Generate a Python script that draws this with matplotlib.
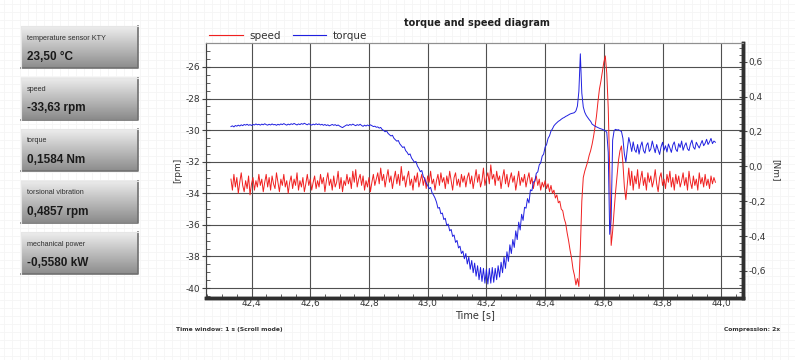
import numpy as np
import matplotlib.pyplot as plt
from matplotlib.ticker import MultipleLocator, FuncFormatter
from matplotlib.lines import Line2D

plt.rcParams['axes.unicode_minus'] = False
plt.rcParams['font.family'] = ['DejaVu Sans']

# sampling of the recorder: start time [s] and step [s]
t_start = 42.33
t_step = 0.005

# speed [rpm], one row = 0.1 s
speed = [
    -33.1, -33.8, -32.8, -33.6, -33.0, -34.0, -33.3, -32.7, -33.5, -33.9, -33.2, -33.7, -32.9, -34.1, -33.4, -33.0, -33.8, -33.2, -33.6, -32.8,
    -33.5, -33.1, -33.9, -33.3, -32.8, -33.6, -33.0, -33.8, -32.9, -33.4, -33.7, -32.7, -33.3, -33.9, -33.1, -33.5, -32.8, -33.6, -33.2, -34.0,
    -33.3, -32.9, -33.7, -33.1, -33.5, -32.7, -33.8, -33.2, -33.6, -33.0, -33.9, -33.4, -32.8, -33.5, -33.1, -33.8, -33.3, -32.9, -33.7, -33.2,
    -33.6, -32.8, -33.4, -33.0, -33.9, -33.2, -32.7, -33.5, -33.1, -33.8, -32.9, -33.6, -33.3, -32.6, -33.7, -33.0, -33.9, -33.2, -33.5, -32.8,
    -33.4, -33.0, -33.7, -32.6, -33.3, -32.5, -33.6, -33.1, -32.8, -33.5, -32.9, -33.8, -33.2, -33.6, -33.0, -33.9, -33.3, -32.8, -33.5, -33.1,
    -32.7, -33.4, -32.4, -33.2, -32.8, -33.6, -33.0, -32.5, -33.3, -32.9, -33.7, -33.1, -32.6, -33.4, -32.8, -33.5, -32.3, -33.2, -32.9, -33.6,
    -33.0, -32.6, -33.5, -33.1, -33.8, -32.9, -33.3, -32.7, -33.6, -33.2, -32.8, -33.5, -33.0, -33.7, -32.9, -33.3, -32.6, -33.4, -33.1, -33.8,
    -33.2, -32.8, -33.5, -32.7, -33.3, -33.0, -33.7, -32.9, -33.4, -32.6, -33.2, -33.8, -33.0, -32.7, -33.5, -33.1, -33.6, -32.8, -33.3, -32.9,
    -33.6, -33.0, -32.7, -33.4, -32.9, -33.7, -33.1, -32.5, -33.3, -32.8, -33.6, -33.2, -32.4, -33.5, -33.0, -32.7, -33.4, -32.2, -33.1, -32.8,
    -33.5, -32.6, -33.2, -32.9, -33.7, -33.0, -32.5, -33.4, -32.8, -33.6, -33.1, -32.7, -33.3, -32.9, -33.8, -33.2, -32.6, -33.5, -33.0, -33.3,
    -32.8, -33.6, -33.1, -32.7, -33.4, -33.0, -33.7, -33.2, -32.9, -33.5, -33.1, -33.8, -33.3, -33.6, -33.2, -33.7, -33.4, -33.9, -33.5, -34.0,
    -33.8, -34.3, -34.1, -34.6, -34.5, -35.0, -35.1, -35.6, -35.9, -36.5, -37.0, -37.6, -38.1, -38.8, -39.2, -39.8, -39.4, -39.9, -37.5, -34.5,
    -33.0, -32.6, -32.3, -32.0, -31.6, -31.3, -30.9, -30.4, -29.8, -29.1, -28.2, -27.4, -26.9, -26.3, -25.7, -25.3, -26.4, -28.6, -32.5, -37.3,
    -36.4, -35.1, -33.9, -32.9, -31.9, -31.3, -31.0, -32.1, -33.6, -34.4, -33.4, -32.4, -33.5, -32.6, -33.8, -32.9, -33.4, -32.5, -33.7, -33.1,
    -32.6, -33.5, -33.0, -33.8, -32.7, -33.3, -32.9, -33.6, -33.2, -32.5, -33.4, -33.9, -33.0, -32.7, -33.5, -33.1, -33.7, -32.8, -33.3, -32.6,
    -33.6, -33.0, -33.8, -32.8, -33.4, -32.9, -33.6, -33.2, -32.7, -33.5, -33.0, -33.8, -32.6, -33.3, -33.7, -32.9, -33.5, -33.1, -33.8, -32.7,
    -33.4, -33.0, -33.6, -32.8, -33.5, -33.1, -33.7, -32.9, -33.4, -33.0, -33.3,
]

# torque [Nm], same sampling
torque = [
    0.228, 0.232, 0.226, 0.234, 0.230, 0.236, 0.231, 0.238, 0.233, 0.240, 0.236, 0.241, 0.235, 0.239, 0.234, 0.240, 0.237, 0.243, 0.238, 0.241,
    0.236, 0.242, 0.238, 0.244, 0.239, 0.236, 0.241, 0.237, 0.243, 0.238, 0.240, 0.235, 0.241, 0.237, 0.243, 0.239, 0.245, 0.240, 0.236, 0.242,
    0.238, 0.244, 0.240, 0.246, 0.241, 0.237, 0.243, 0.239, 0.245, 0.241, 0.247, 0.242, 0.238, 0.244, 0.240, 0.236, 0.242, 0.238, 0.244, 0.239,
    0.243, 0.237, 0.241, 0.235, 0.240, 0.234, 0.238, 0.232, 0.236, 0.240, 0.235, 0.239, 0.233, 0.237, 0.231, 0.226, 0.222, 0.228, 0.233, 0.238,
    0.234, 0.240, 0.236, 0.242, 0.237, 0.233, 0.239, 0.235, 0.241, 0.234, 0.229, 0.236, 0.231, 0.237, 0.232, 0.238, 0.233, 0.228, 0.230, 0.224,
    0.226, 0.219, 0.223, 0.211, 0.206, 0.198, 0.203, 0.189, 0.181, 0.174, 0.178, 0.161, 0.152, 0.144, 0.148, 0.129, 0.118, 0.108, 0.112, 0.090,
    0.080, 0.066, 0.071, 0.048, 0.036, 0.023, 0.028, 0.002, -0.012, -0.031, -0.024, -0.058, -0.072, -0.095, -0.110, -0.128, -0.121, -0.152, -0.165, -0.182,
    -0.205, -0.240, -0.236, -0.272, -0.268, -0.305, -0.298, -0.339, -0.331, -0.370, -0.362, -0.402, -0.394, -0.436, -0.425, -0.468, -0.458, -0.500, -0.486, -0.530,
    -0.500, -0.560, -0.520, -0.590, -0.540, -0.610, -0.555, -0.630, -0.570, -0.650, -0.580, -0.660, -0.585, -0.670, -0.590, -0.675, -0.585, -0.670, -0.580, -0.665,
    -0.585, -0.650, -0.570, -0.635, -0.550, -0.610, -0.520, -0.585, -0.490, -0.545, -0.450, -0.500, -0.420, -0.465, -0.370, -0.420, -0.320, -0.365, -0.275, -0.310,
    -0.235, -0.240, -0.185, -0.210, -0.135, -0.140, -0.090, -0.085, -0.040, -0.032, 0.008, 0.020, 0.058, 0.070, 0.110, 0.125, 0.160, 0.175, 0.202, 0.215,
    0.232, 0.242, 0.250, 0.258, 0.263, 0.270, 0.276, 0.280, 0.286, 0.290, 0.295, 0.300, 0.303, 0.305, 0.308, 0.318, 0.345, 0.430, 0.645, 0.420,
    0.340, 0.310, 0.292, 0.280, 0.268, 0.258, 0.242, 0.236, 0.230, 0.226, 0.222, 0.218, 0.215, 0.212, 0.208, 0.204, 0.195, 0.080, -0.390, -0.300,
    0.150, 0.205, 0.212, 0.208, 0.210, 0.204, 0.200, 0.160, 0.070, 0.025, 0.100, 0.165, 0.130, 0.085, 0.140, 0.095, 0.080, 0.125, 0.070, 0.115,
    0.140, 0.090, 0.075, 0.120, 0.135, 0.085, 0.100, 0.145, 0.110, 0.078, 0.125, 0.095, 0.068, 0.112, 0.138, 0.092, 0.118, 0.082, 0.128, 0.105,
    0.080, 0.122, 0.140, 0.098, 0.085, 0.130, 0.108, 0.145, 0.092, 0.118, 0.135, 0.100, 0.090, 0.128, 0.150, 0.110, 0.098, 0.138, 0.120, 0.105,
    0.128, 0.148, 0.118, 0.132, 0.155, 0.125, 0.140, 0.160, 0.130, 0.145, 0.138,
]

# read-outs on the left
panel_labels = ['temperature sensor KTY', 'speed', 'torque', 'torsional vibration', 'mechanical power']
panel_values = ['23,50 °C', '-33,63 rpm', '0,1584 Nm', '0,4857 rpm', '-0,5580 kW']

t = t_start + t_step * np.arange(len(speed))

W, H = 795, 360
fig = plt.figure(figsize=(W / 100, H / 100), dpi=100)
fig.patch.set_facecolor('white')

# background layer in pixel coordinates
bg = fig.add_axes([0, 0, 1, 1], zorder=0)
bg.set_xlim(0, W)
bg.set_ylim(H, 0)
bg.axis('off')
for gx in np.arange(4, W, 8):
    bg.axvline(gx, color='#f5f5f5', lw=0.6, zorder=0)
for gy in np.arange(4, H, 8):
    bg.axhline(gy, color='#f5f5f5', lw=0.6, zorder=0)

grad = np.linspace(0.93, 0.55, 64).reshape(-1, 1)
for i, (lab, val) in enumerate(zip(panel_labels, panel_values)):
    top = 26 + i * 51.5
    bg.imshow(grad, cmap='gray', vmin=0, vmax=1, aspect='auto',
              extent=(21, 138, top + 42, top), zorder=1)
    bg.plot([21, 138, 138], [top + 42, top + 42, top], color='#707070', lw=1.2, zorder=2)
    bg.plot([21, 21, 138], [top + 42, top, top], color='#e6e6e6', lw=0.8, zorder=2)
    bg.text(27, top + 12, lab, fontsize=5.2, color='#303030', va='center',
            family='Liberation Sans', zorder=3)
    bg.text(27, top + 31, val, fontsize=8.5, color='#1a1a1a', fontweight='bold',
            va='center', family='Liberation Sans', zorder=3)

# main chart
ax = fig.add_axes([206 / W, 1 - 298 / H, (743 - 206) / W, (298 - 43) / H], zorder=2)
ax.set_facecolor('white')
ax2 = ax.twinx()

l1, = ax.plot(t, speed, color='#f02020', lw=0.7, label='speed')
l2, = ax2.plot(t, torque, color='#2020e0', lw=0.7, label='torque')

ax.set_xlim(42.245, 44.074)
ax.set_ylim(-40.63, -24.48)
ax2.set_ylim(-0.755, 0.707)

ax.xaxis.set_major_locator(MultipleLocator(0.2))
ax.xaxis.set_minor_locator(MultipleLocator(0.05))
ax.yaxis.set_major_locator(MultipleLocator(2))
ax.yaxis.set_minor_locator(MultipleLocator(0.5))
ax2.yaxis.set_major_locator(MultipleLocator(0.2))
ax2.yaxis.set_minor_locator(MultipleLocator(0.04))

ax.xaxis.set_major_formatter(FuncFormatter(lambda v, p: f'{v:.1f}'.replace('.', ',')))
ax.yaxis.set_major_formatter(FuncFormatter(lambda v, p: f'{v:.0f}'))
ax2.yaxis.set_major_formatter(FuncFormatter(lambda v, p: f'{v:.1f}'.replace('.', ',')))

ax.grid(True, which='major', color='#505050', lw=0.8)
ax.set_axisbelow(True)

for a in (ax, ax2):
    a.tick_params(which='major', direction='inout', length=6, width=0.8,
                  labelsize=6.5, labelcolor='#333333', color='#444444', pad=1)
    a.tick_params(which='minor', direction='in', length=3, width=0.6, color='#444444')
ax.tick_params(axis='x', which='major', direction='in', length=0)

for a in (ax, ax2):
    a.spines['top'].set_color('#909090')
    a.spines['top'].set_linewidth(0.8)
    a.spines['left'].set_color('#404040')
    a.spines['left'].set_linewidth(0.8)
    a.spines['right'].set_color('#303030')
    a.spines['right'].set_linewidth(2.5)
    a.spines['bottom'].set_color('#303030')
    a.spines['bottom'].set_linewidth(2.5)

ax.set_xlabel('Time [s]', fontsize=7, color='#333333', labelpad=1)
fig.text(178 / W, 1 - 170 / H, '[rpm]', rotation=90, fontsize=6.5, color='#333333',
         ha='center', va='center')
fig.text(776 / W, 1 - 170 / H, '[Nm]', rotation=270, fontsize=6.5, color='#333333',
         ha='center', va='center')

fig.text(477 / W, 1 - 23 / H, 'torque and speed diagram', fontsize=7, fontweight='bold',
         color='#202020', ha='center', va='center')

handles = [Line2D([], [], color='#f02020', lw=0.8), Line2D([], [], color='#2020e0', lw=0.8)]
fig.legend(handles, ['speed', 'torque'], loc='center left',
           bbox_to_anchor=(200 / W, 1 - 36 / H), ncol=2, frameon=False,
           fontsize=7.5, handlelength=3.2, handletextpad=0.6, columnspacing=1.2,
           labelcolor='#333333')

fig.text(176 / W, 1 - 329 / H, 'Time window: 1 s (Scroll mode)', fontsize=4.3,
         fontweight='bold', color='#333333', va='center')
fig.text(780 / W, 1 - 329 / H, 'Compression: 2x', fontsize=4.3, fontweight='bold',
         color='#333333', va='center', ha='right')

fig.savefig('out.png', dpi=100)
